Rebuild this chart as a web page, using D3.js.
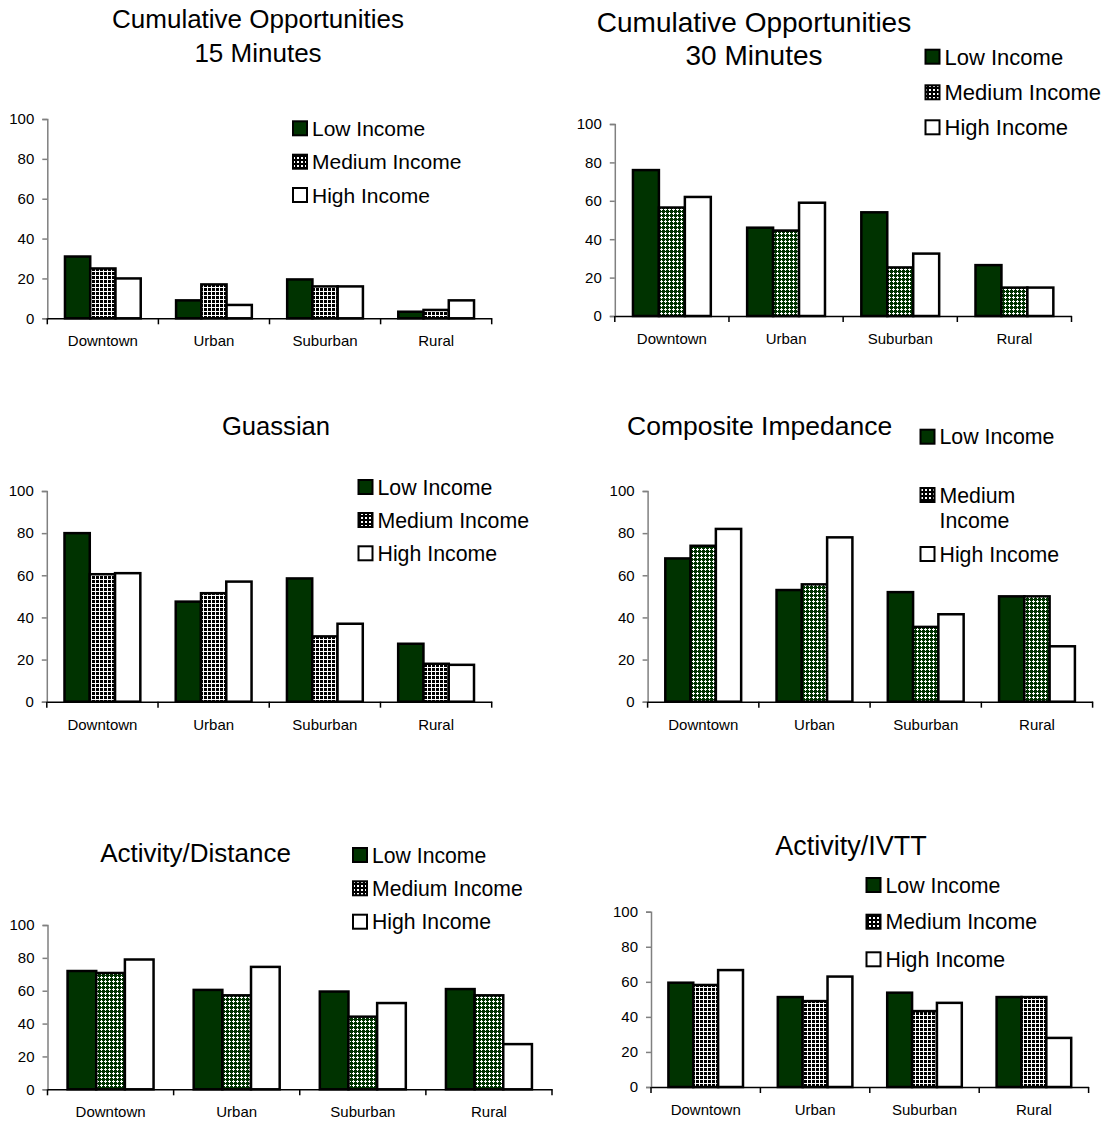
<!DOCTYPE html>
<html>
<head>
<meta charset="utf-8">
<script src="https://cdn.jsdelivr.net/npm/d3@7"></script>
<style>
  html, body { margin: 0; padding: 0; background: #fff; }
  svg { display: block; font-family: "Liberation Sans", Arial, sans-serif; }
</style>
</head>
<body>
<svg id="chart" width="1111" height="1124"></svg>
<script>
// ---------------- DATA ----------------
const categories = ["Downtown", "Urban", "Suburban", "Rural"];
const seriesNames = ["Low Income", "Medium Income", "High Income"];
const yTicks = [0, 20, 40, 60, 80, 100];

const titles = [
  ["Cumulative Opportunities", "15 Minutes"],
  ["Cumulative Opportunities", "30 Minutes"],
  ["Guassian"],
  ["Composite Impedance"],
  ["Activity/Distance"],
  ["Activity/IVTT"]
];

// Cumulative Opportunities 15 Minutes
const cum15Low    = [31, 9, 19.5, 3.3];
const cum15Medium = [25, 17, 16, 4.2];
const cum15High   = [20, 6.7, 16, 9];
// Cumulative Opportunities 30 Minutes
const cum30Low    = [76, 46, 54, 26.5];
const cum30Medium = [56.5, 44.5, 25.3, 14.8];
const cum30High   = [62, 59, 32.5, 14.8];
// Guassian
const gaussLow    = [80, 47.5, 58.5, 27.5];
const gaussMedium = [60.5, 51.5, 31, 18];
const gaussHigh   = [61, 57, 37, 17.5];
// Composite Impedance
const compLow     = [68, 53, 52, 50];
const compMedium  = [74, 55.7, 35.5, 50];
const compHigh    = [82, 78, 41.5, 26.3];
// Activity/Distance
const distLow     = [72, 60.5, 59.5, 61];
const distMedium  = [70.8, 57.2, 44.2, 57.2];
const distHigh    = [79, 74.5, 52.5, 27.5];
// Activity/IVTT
const ivttLow     = [59.5, 51.3, 53.8, 51.3];
const ivttMedium  = [58.2, 49, 43.3, 51.3];
const ivttHigh    = [66.7, 63, 48, 28];

const panelValues = [
  [cum15Low, cum15Medium, cum15High],
  [cum30Low, cum30Medium, cum30High],
  [gaussLow, gaussMedium, gaussHigh],
  [compLow, compMedium, compHigh],
  [distLow, distMedium, distHigh],
  [ivttLow, ivttMedium, ivttHigh]
];

// ---------------- LAYOUT ----------------
const layouts = [
  { x0: 47.3, x1: 491.7, y100: 119, y0: 318.3, tx: 258, tb: [28, 61.7], tfs: 26,
    lx: 293, ly: [128.3, 161.7, 195], lfs: 21, pat: "dots" },
  { x0: 614.8, x1: 1071.5, y100: 124, y0: 316, tx: 754, tb: [31.7, 65], tfs: 28,
    lx: 925.5, ly: [56.7, 92.3, 127.3], lfs: 22, pat: "green" },
  { x0: 46.8, x1: 491.7, y100: 491, y0: 701.7, tx: 276, tb: [435], tfs: 25.6,
    lx: 358.5, ly: [487, 520, 553.3], lfs: 21.3, pat: "dots" },
  { x0: 647.6, x1: 1092.6, y100: 491, y0: 701.7, tx: 759.6, tb: [435], tfs: 26.5,
    lx: 920.5, ly: [436.7, 495, 554], lfs: 21.3, pat: "green", wrapMedium: true },
  { x0: 47.5, x1: 552, y100: 925, y0: 1089.3, tx: 195.5, tb: [861.7], tfs: 26,
    lx: 353, ly: [855, 888.3, 921.7], lfs: 21.2, pat: "green" },
  { x0: 651, x1: 1088.6, y100: 911.7, y0: 1087, tx: 851, tb: [855], tfs: 27,
    lx: 866.5, ly: [885, 921.7, 959.3], lfs: 21.3, pat: "dots" }
];

const LOW_FILL = "#003300";

const svg = d3.select("#chart");
const defs = svg.append("defs");

// Pattern: black dots on white (medium income in some panels)
const pDots = defs.append("pattern").attr("id", "pat-dots")
  .attr("patternUnits", "userSpaceOnUse").attr("width", 4).attr("height", 4);
pDots.append("rect").attr("width", 4).attr("height", 4).attr("fill", "#fff");
pDots.append("rect").attr("x", 0).attr("y", 0).attr("width", 3).attr("height", 3)
  .attr("fill", "#000").attr("shape-rendering", "crispEdges");

// Pattern: white dots on dark green
const pGreen = defs.append("pattern").attr("id", "pat-green")
  .attr("patternUnits", "userSpaceOnUse").attr("width", 4).attr("height", 4);
pGreen.append("rect").attr("width", 4).attr("height", 4).attr("fill", LOW_FILL);
pGreen.append("rect").attr("x", 1).attr("y", 0).attr("width", 1).attr("height", 3)
  .attr("fill", "#fff").attr("shape-rendering", "crispEdges");
pGreen.append("rect").attr("x", 0).attr("y", 1).attr("width", 3).attr("height", 1)
  .attr("fill", "#fff").attr("shape-rendering", "crispEdges");

// Pattern: legend swatch for medium (black with white dots)
const pLeg = defs.append("pattern").attr("id", "pat-leg")
  .attr("patternUnits", "userSpaceOnUse").attr("width", 4).attr("height", 4);
pLeg.append("rect").attr("width", 4).attr("height", 4).attr("fill", "#000");
pLeg.append("rect").attr("x", 1).attr("y", 1).attr("width", 2).attr("height", 2)
  .attr("fill", "#fff").attr("shape-rendering", "crispEdges");

layouts.forEach((L, pi) => {
  const g = svg.append("g");
  const vals = panelValues[pi];

  const x = d3.scaleBand().domain(categories).range([L.x0, L.x1]).paddingInner(0).paddingOuter(0);
  const xs = d3.scaleBand().domain(seriesNames).range([0, x.bandwidth()]).paddingInner(0).paddingOuter(0.7);
  const y = d3.scaleLinear().domain([0, 100]).range([L.y0, L.y100]);

  const fills = [LOW_FILL, L.pat === "dots" ? "url(#pat-dots)" : "url(#pat-green)", "#fff"];

  // Bars
  seriesNames.forEach((s, si) => {
    g.append("g").selectAll("rect")
      .data(categories.map((c, ci) => ({ c, v: vals[si][ci] })))
      .join("rect")
      .attr("x", d => x(d.c) + xs(s))
      .attr("y", d => y(d.v))
      .attr("width", xs.bandwidth())
      .attr("height", d => y(0) - y(d.v))
      .attr("fill", fills[si])
      .attr("stroke", "#000")
      .attr("stroke-width", 2.5);
  });

  // Y axis
  const yAxis = d3.axisLeft(y).tickValues(yTicks).tickSize(5).tickPadding(8).tickFormat(d3.format("d"));
  const ya = g.append("g").attr("transform", `translate(${L.x0},0)`).call(yAxis);
  ya.attr("font-family", null).attr("font-size", null);
  ya.select(".domain").attr("stroke", "#808080").attr("stroke-width", 1.5);
  ya.selectAll(".tick line").attr("stroke", "#808080").attr("stroke-width", 1.5);
  ya.selectAll("text").attr("font-size", 15).attr("fill", "#000");

  // X axis
  const xAxis = d3.axisBottom(x).tickSize(0).tickPadding(0);
  const xa = g.append("g").attr("transform", `translate(0,${L.y0})`).call(xAxis);
  xa.attr("font-family", null).attr("font-size", null);
  xa.select(".domain").attr("stroke", "#000").attr("stroke-width", 1.5);
  xa.selectAll(".tick text").attr("font-size", 15).attr("fill", "#000")
    .attr("dy", null).attr("y", 28);
  // boundary ticks
  const bounds = categories.map(c => x(c)).concat([L.x1]);
  g.append("g").selectAll("line").data(bounds).join("line")
    .attr("x1", d => d).attr("x2", d => d)
    .attr("y1", L.y0).attr("y2", L.y0 + 6)
    .attr("stroke", "#000").attr("stroke-width", 1.5);

  // Title
  const t = titles[pi];
  t.forEach((line, li) => {
    g.append("text").attr("x", L.tx).attr("y", L.tb[li])
      .attr("text-anchor", "middle").attr("font-size", L.tfs).attr("fill", "#000")
      .text(line);
  });

  // Legend
  const legFills = [LOW_FILL, "url(#pat-leg)", "#fff"];
  seriesNames.forEach((s, si) => {
    const cy = L.ly[si];
    g.append("rect").attr("x", L.lx).attr("y", cy - 7)
      .attr("width", 14).attr("height", 14)
      .attr("fill", legFills[si]).attr("stroke", "#000").attr("stroke-width", 2);
    if (L.wrapMedium && si === 1) {
      const parts = s.split(" ");
      g.append("text").attr("x", L.lx + 19).attr("y", cy + L.lfs * 0.36)
        .attr("font-size", L.lfs).attr("fill", "#000").text(parts[0]);
      g.append("text").attr("x", L.lx + 19).attr("y", cy + 25 + L.lfs * 0.36)
        .attr("font-size", L.lfs).attr("fill", "#000").text(parts[1]);
    } else {
      g.append("text").attr("x", L.lx + 19).attr("y", cy + L.lfs * 0.36)
        .attr("font-size", L.lfs).attr("fill", "#000").text(s);
    }
  });
});
</script>
</body>
</html>
